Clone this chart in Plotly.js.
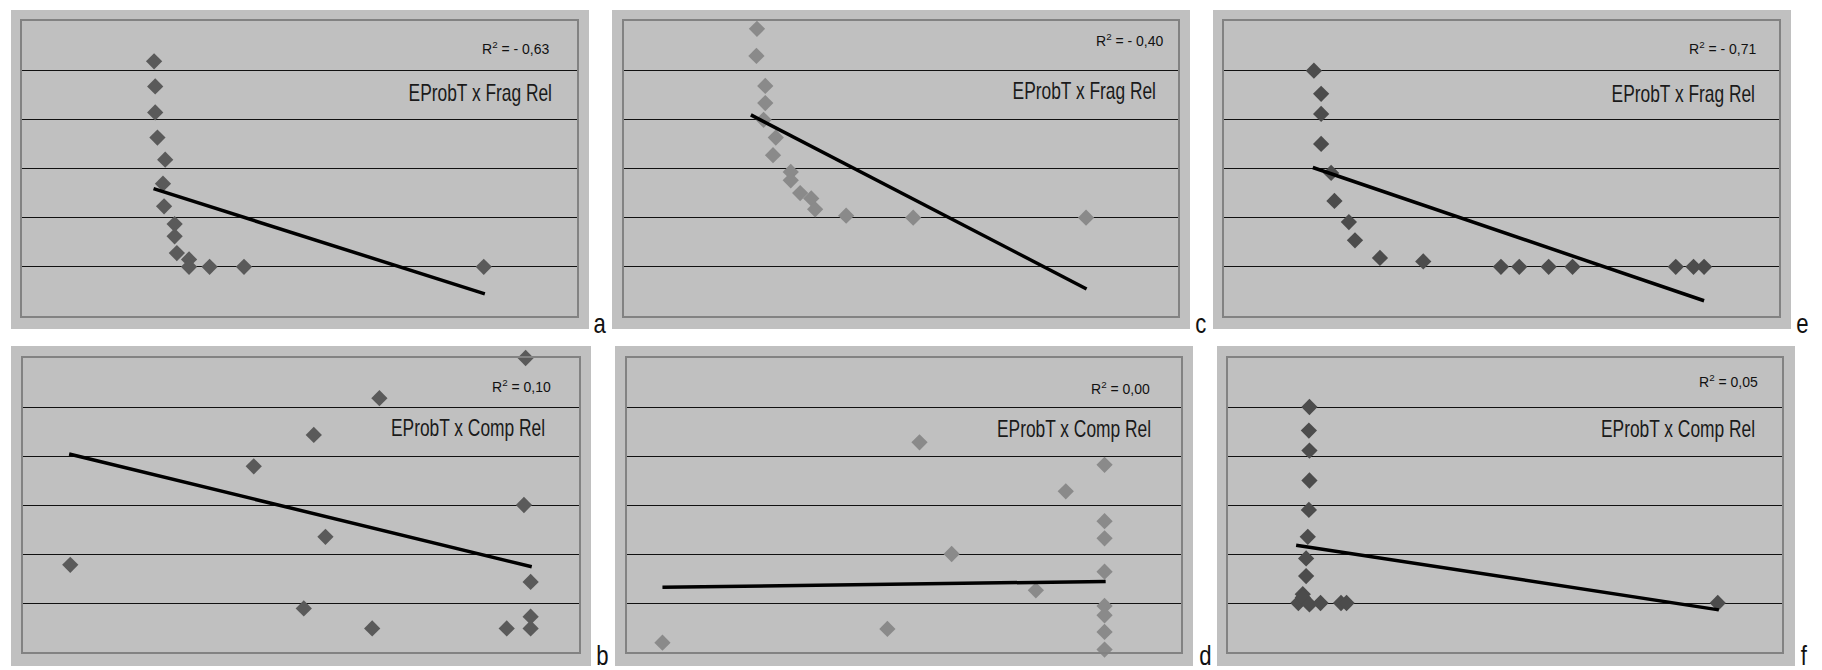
<!DOCTYPE html>
<html>
<head>
<meta charset="utf-8">
<script src="https://cdn.plot.ly/plotly-3.0.1.min.js"></script>
<style>
  html, body { margin: 0; padding: 0; background: #ffffff; }
  #chart { width: 1822px; height: 670px; }
</style>
</head>
<body>
<div id="chart"></div>
<script>
// ---- EProbT x Frag Rel (a, c, e) ----
const aX = [2.38, 2.40, 2.40, 2.44, 2.58, 2.54, 2.56, 2.75, 2.75, 2.79, 3.01, 3.01, 3.38, 4.00, 8.32];
const aY = [5.18, 4.67, 4.14, 3.63, 3.18, 2.69, 2.23, 1.87, 1.62, 1.28, 1.15, 1.00, 1.00, 1.00, 1.00];
const aTrendX = [2.37, 8.34];
const aTrendY = [2.59, 0.45];

const cX = [2.40, 2.39, 2.55, 2.55, 2.52, 2.74, 2.69, 3.01, 3.01, 3.18, 3.38, 3.45, 4.01, 5.22, 8.34];
const cY = [5.84, 5.29, 4.68, 4.33, 3.99, 3.63, 3.27, 2.93, 2.76, 2.50, 2.39, 2.17, 2.04, 2.00, 2.00];
const cTrendX = [2.29, 8.35];
const cTrendY = [4.09, 0.55];

const eX = [1.62, 1.75, 1.75, 1.75, 1.93, 1.99, 2.25, 2.36, 2.81, 3.59, 4.99, 5.32, 5.85, 6.28, 8.14, 8.46, 8.65];
const eY = [4.99, 4.52, 4.11, 3.50, 2.91, 2.34, 1.91, 1.54, 1.18, 1.11, 1.00, 1.00, 1.00, 1.00, 1.00, 1.00, 1.00];
const eTrendX = [1.60, 8.65];
const eTrendY = [3.02, 0.31];

// ---- EProbT x Comp Rel (b, d, f) ----
const bX = [9.04, 6.41, 5.23, 4.15, 9.01, 5.44, 0.85, 9.13, 5.05, 9.13, 6.28, 8.70, 9.13];
const bY = [6.00, 5.18, 4.43, 3.79, 3.00, 2.35, 1.78, 1.43, 0.89, 0.72, 0.48, 0.48, 0.48];
const bTrendX = [0.83, 9.15];
const bTrendY = [4.04, 1.74];

const dX = [5.28, 8.62, 7.92, 8.62, 8.62, 5.86, 8.62, 7.38, 8.62, 8.62, 4.70, 8.62, 0.64, 8.62];
const dY = [4.28, 3.82, 3.28, 2.67, 2.32, 2.00, 1.64, 1.26, 0.94, 0.75, 0.47, 0.41, 0.19, 0.05];
const dTrendX = [0.64, 8.64];
const dTrendY = [1.32, 1.44];

const fX = [1.47, 1.46, 1.47, 1.47, 1.46, 1.44, 1.41, 1.41, 1.35, 1.27, 1.35, 1.47, 1.67, 2.04, 2.14, 8.84];
const fY = [5.00, 4.52, 4.11, 3.50, 2.90, 2.35, 1.91, 1.55, 1.18, 1.00, 1.11, 0.97, 1.00, 1.00, 1.00, 1.00];
const fTrendX = [1.23, 8.86];
const fTrendY = [2.18, 0.86];

const r2Labels = ['R<sup>2</sup> = - 0,63', 'R<sup>2</sup> = - 0,40', 'R<sup>2</sup> = - 0,71',
                  'R<sup>2</sup> = 0,10', 'R<sup>2</sup> = 0,00', 'R<sup>2</sup> = 0,05'];
const pairTitles = ['EProbT x Frag Rel', 'EProbT x Frag Rel', 'EProbT x Frag Rel',
                    'EProbT x Comp Rel', 'EProbT x Comp Rel', 'EProbT x Comp Rel'];
const panelLetters = ['a', 'c', 'e', 'b', 'd', 'f'];

// ---- page geometry (pixels) ----
const W = 1822, H = 670;
const px = v => v / W;
const py = v => 1 - v / H;

const panels = [
  { xs: aX, ys: aY, tx: aTrendX, ty: aTrendY, color: '#5a5a5a',
    outer: [11, 10, 589, 329], plot: [22, 21, 577, 316], r2: [552, 48], title: [554, 93], letter: [600, 324] },
  { xs: cX, ys: cY, tx: cTrendX, ty: cTrendY, color: '#8a8a8a',
    outer: [612, 10, 1190, 329], plot: [624, 21, 1178, 316], r2: [1166, 40], title: [1158, 91], letter: [1201, 324] },
  { xs: eX, ys: eY, tx: eTrendX, ty: eTrendY, color: '#4c4c4c',
    outer: [1213, 10, 1791, 329], plot: [1224, 21, 1779, 316], r2: [1759, 48], title: [1757, 94], letter: [1802, 324] },
  { xs: bX, ys: bY, tx: bTrendX, ty: bTrendY, color: '#5a5a5a',
    outer: [11, 346, 591, 666], plot: [23, 358, 579, 652], r2: [553, 386], title: [547, 428], letter: [602, 656] },
  { xs: dX, ys: dY, tx: dTrendX, ty: dTrendY, color: '#8a8a8a',
    outer: [615, 346, 1193, 666], plot: [627, 358, 1181, 652], r2: [1152, 388], title: [1153, 429], letter: [1205, 656] },
  { xs: fX, ys: fY, tx: fTrendX, ty: fTrendY, color: '#4c4c4c',
    outer: [1217, 346, 1795, 666], plot: [1228, 358, 1782, 652], r2: [1760, 381], title: [1757, 429], letter: [1804, 656] }
];

const sans = "'Liberation Sans', Arial, sans-serif";
const NARROW_TITLE = 0.755;  // horizontal squeeze for the captions
const NARROW_LETTER = 0.82;  // and for the panel letters

const traces = [];
const shapes = [];
const annotations = [];
const narrowTexts = [];   // [annotation index, transform origin, squeeze]
const layout = {
  width: W, height: H,
  margin: { l: 0, r: 0, t: 0, b: 0, pad: 0 },
  paper_bgcolor: '#ffffff',
  plot_bgcolor: '#c0c0c0',
  showlegend: false
};

panels.forEach((p, i) => {
  const n = i + 1;
  const xa = n === 1 ? 'x' : 'x' + n;
  const ya = n === 1 ? 'y' : 'y' + n;

  traces.push({
    type: 'scatter', mode: 'markers', x: p.xs, y: p.ys, xaxis: xa, yaxis: ya,
    cliponaxis: false, hoverinfo: 'skip',
    marker: { symbol: 'diamond', size: 12.5, color: p.color, line: { width: 0 } }
  });
  traces.push({
    type: 'scatter', mode: 'lines', x: p.tx, y: p.ty, xaxis: xa, yaxis: ya,
    cliponaxis: false, hoverinfo: 'skip',
    line: { color: '#000000', width: 3.5 }
  });

  layout[n === 1 ? 'xaxis' : 'xaxis' + n] = {
    domain: [px(p.plot[0]), px(p.plot[2])], anchor: ya,
    range: [0, 10], showgrid: false, zeroline: false, showticklabels: false, ticks: '',
    showline: true, mirror: true, linecolor: '#828282', linewidth: 2, fixedrange: true
  };
  layout[n === 1 ? 'yaxis' : 'yaxis' + n] = {
    domain: [py(p.plot[3]), py(p.plot[1])], anchor: xa,
    range: [0, 6], tickvals: [1, 2, 3, 4, 5], showgrid: true, gridcolor: '#111111', gridwidth: 1,
    zeroline: false, showticklabels: false, ticks: '',
    showline: true, mirror: true, linecolor: '#828282', linewidth: 2, fixedrange: true
  };

  // grey chart frame behind each plot
  shapes.push({
    type: 'rect', xref: 'paper', yref: 'paper', layer: 'below',
    x0: px(p.outer[0]), x1: px(p.outer[2]), y0: py(p.outer[3]), y1: py(p.outer[1]),
    fillcolor: '#c0c0c0', line: { width: 0 }
  });

  annotations.push({
    xref: 'paper', yref: 'paper', x: px(p.r2[0]), y: py(p.r2[1]),
    xanchor: 'right', yanchor: 'middle', showarrow: false,
    text: r2Labels[i], font: { family: sans, size: 14, color: '#111111' }
  });
  narrowTexts.push([annotations.length, 'right center', NARROW_TITLE]);
  annotations.push({
    xref: 'paper', yref: 'paper', x: px(p.title[0]), y: py(p.title[1]),
    xanchor: 'right', yanchor: 'middle', showarrow: false,
    text: pairTitles[i], font: { family: sans, size: 23, color: '#1a1a1a' }
  });
  narrowTexts.push([annotations.length, 'center center', NARROW_LETTER]);
  annotations.push({
    xref: 'paper', yref: 'paper', x: px(p.letter[0]), y: py(p.letter[1]),
    xanchor: 'center', yanchor: 'middle', showarrow: false,
    text: panelLetters[i], font: { family: sans, size: 27, color: '#111111' }
  });
});

layout.shapes = shapes;
layout.annotations = annotations;

Plotly.newPlot('chart', traces, layout, { staticPlot: true, displayModeBar: false }).then(gd => {
  // condensed look for captions and panel letters
  narrowTexts.forEach(([idx, origin, k]) => {
    const t = gd.querySelector('g.annotation[data-index="' + idx + '"] text.annotation-text');
    if (t) {
      t.style.transformBox = 'fill-box';
      t.style.transformOrigin = origin;
      t.style.transform = 'scaleX(' + k + ')';
    }
  });
});
</script>
</body>
</html>
